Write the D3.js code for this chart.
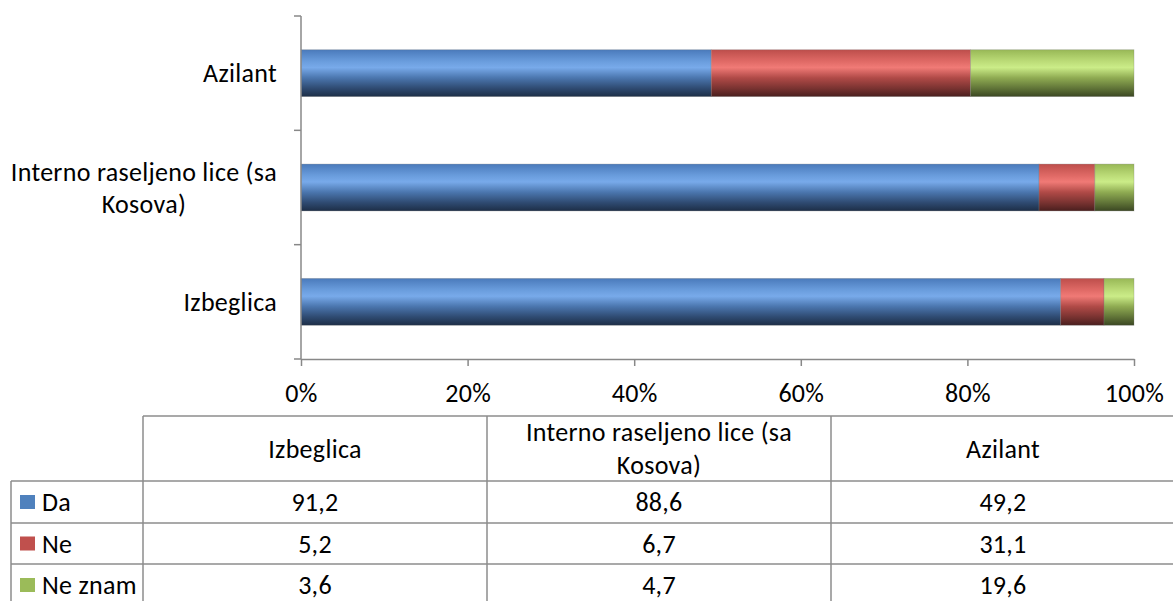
<!DOCTYPE html>
<html>
<head>
<meta charset="utf-8">
<script src="https://cdn.jsdelivr.net/npm/d3@7"></script>
<style>
  html, body { margin: 0; padding: 0; background: #fff; }
  svg { display: block; }
  text { font-family: Carlito, Lato, "Open Sans", sans-serif; fill: #000; letter-spacing: 0.3px; }
</style>
</head>
<body>
<svg id="chart" width="1173" height="601"></svg>
<script>
// ---- data ----
const categories = ["Izbeglica", "Interno raseljeno lice (sa Kosova)", "Azilant"];
const categoryLines = [["Izbeglica"], ["Interno raseljeno lice (sa", "Kosova)"], ["Azilant"]];
const seriesNames = ["Da", "Ne", "Ne znam"];
const daValues = [91.2, 88.6, 49.2];
const neValues = [5.2, 6.7, 31.1];
const neZnamValues = [3.6, 4.7, 19.6];
const xTickValues = [0, 0.2, 0.4, 0.6, 0.8, 1.0];
const valueLabels = [["91,2", "88,6", "49,2"], ["5,2", "6,7", "31,1"], ["3,6", "4,7", "19,6"]];

const FS = 26;
const seriesValues = [daValues, neValues, neZnamValues];
const colors = ["#4f81bd", "#c0504d", "#9bbb59"];
const gradStops = [
  ["#4a7abb", "#6a9ddd", "#78aaea", "#4b76ae", "#2f4b72", "#1d2e47"],
  ["#bd4e4b", "#e06a66", "#f07a76", "#b04a47", "#7a3331", "#4a1f1e"],
  ["#98b856", "#bcdc78", "#cbec88", "#8fab52", "#617538", "#3b4722"]
];

const svg = d3.select("#chart");
const defs = svg.append("defs");
gradStops.forEach((stops, i) => {
  const g = defs.append("linearGradient").attr("id", "grad" + i)
    .attr("x1", 0).attr("y1", 0).attr("x2", 0).attr("y2", 1);
  const offs = [0, 0.25, 0.38, 0.6, 0.82, 1];
  stops.forEach((c, j) => g.append("stop").attr("offset", offs[j]).attr("stop-color", c));
});

// ---- scales ----
const x = d3.scaleLinear().domain([0, 1]).range([301, 1134]);
const yOrder = categories.slice().reverse(); // Azilant at top
const y = d3.scaleBand().domain(yOrder).range([16, 359]).paddingInner(0.59).paddingOuter(0.295);

// stacked data
const rows = categories.map((c, i) => {
  const total = seriesValues.reduce((s, arr) => s + arr[i], 0);
  let acc = 0;
  return seriesValues.map((arr, k) => {
    const v0 = acc / total; acc += arr[i];
    return { cat: c, k, x0: v0, x1: acc / total };
  });
}).flat();

svg.append("g").selectAll("rect").data(rows).join("rect")
  .attr("x", d => x(d.x0))
  .attr("width", d => x(d.x1) - x(d.x0))
  .attr("y", d => y(d.cat))
  .attr("height", y.bandwidth())
  .attr("fill", d => `url(#grad${d.k})`)
  .attr("stroke", "rgba(120,120,120,0.35)")
  .attr("stroke-width", 0.8);

// ---- axes ----
const axisColor = "#888888";
const yAxisG = svg.append("g");
yAxisG.append("line").attr("x1", 301).attr("x2", 301).attr("y1", 16).attr("y2", 359)
  .attr("stroke", axisColor).attr("stroke-width", 1.5);
const yTickPos = d3.range(4).map(i => 16 + i * (343 / 3));
yAxisG.selectAll("line.t").data(yTickPos).join("line").attr("class", "t")
  .attr("x1", 294).attr("x2", 301).attr("y1", d => d).attr("y2", d => d)
  .attr("stroke", axisColor).attr("stroke-width", 1.5);

const xAxis = d3.axisBottom(x).tickValues(xTickValues).tickFormat(d3.format(".0%")).tickSizeInner(7).tickSizeOuter(0);
const xg = svg.append("g").attr("transform", "translate(0,359)").call(xAxis);
xg.select(".domain").attr("stroke", axisColor).attr("stroke-width", 1.5);
xg.selectAll(".tick line").attr("stroke", axisColor).attr("stroke-width", 1.5);
xg.selectAll(".tick text").attr("font-size", FS).attr("font-family", "Carlito, Lato, sans-serif")
  .attr("fill", "#000").attr("y", 34).attr("dy", "0.35em");

// y category labels
const labelG = svg.append("g");
categories.forEach((c, i) => {
  const lines = categoryLines[i];
  const cy = y(c) + y.bandwidth() / 2;
  const lh = 32;
  const t = labelG.append("text").attr("font-size", FS).attr("text-anchor", "middle");
  lines.forEach((ln, j) => {
    t.append("tspan").attr("x", 0).attr("y", cy + (j - (lines.length - 1) / 2) * lh).attr("dy", "0.35em").text(ln);
  });
  const bb = t.node().getBBox();
  t.attr("transform", `translate(${277 - bb.width / 2},0)`);
});

// ---- data table ----
const tableColor = "#8c8c8c";
const colX = [143, 487, 831, 1175];
const rowY = [416, 481, 523, 564, 606];
const tg = svg.append("g");
tg.append("line").attr("x1", colX[0]).attr("x2", colX[3]).attr("y1", rowY[0]).attr("y2", rowY[0]);
rowY.slice(1).forEach(yy => tg.append("line").attr("x1", 11).attr("x2", colX[3]).attr("y1", yy).attr("y2", yy));
colX.forEach(xx => tg.append("line").attr("x1", xx).attr("x2", xx).attr("y1", rowY[0]).attr("y2", rowY[4]));
tg.append("line").attr("x1", 11).attr("x2", 11).attr("y1", rowY[1]).attr("y2", rowY[4]);
tg.selectAll("line").attr("stroke", tableColor).attr("stroke-width", 1.5);

categories.forEach((c, i) => {
  const cx = (colX[i] + colX[i + 1]) / 2;
  const lines = categoryLines[i];
  const cy = (rowY[0] + rowY[1]) / 2;
  const t = tg.append("text").attr("font-size", FS).attr("text-anchor", "middle");
  lines.forEach((ln, j) => {
    t.append("tspan").attr("x", cx).attr("y", cy + (j - (lines.length - 1) / 2) * 33).attr("dy", "0.35em").text(ln);
  });
});

seriesNames.forEach((s, k) => {
  const cy = (rowY[k + 1] + rowY[k + 2]) / 2;
  tg.append("rect").attr("x", 20).attr("y", cy - 7).attr("width", 15).attr("height", 14).attr("fill", colors[k]);
  tg.append("text").attr("x", 42).attr("y", cy).attr("dy", "0.35em").attr("font-size", FS).text(s);
  valueLabels[k].forEach((v, i) => {
    const cx = (colX[i] + colX[i + 1]) / 2;
    tg.append("text").attr("x", cx).attr("y", cy).attr("dy", "0.35em").attr("font-size", FS)
      .attr("text-anchor", "middle").text(v);
  });
});
</script>
</body>
</html>
